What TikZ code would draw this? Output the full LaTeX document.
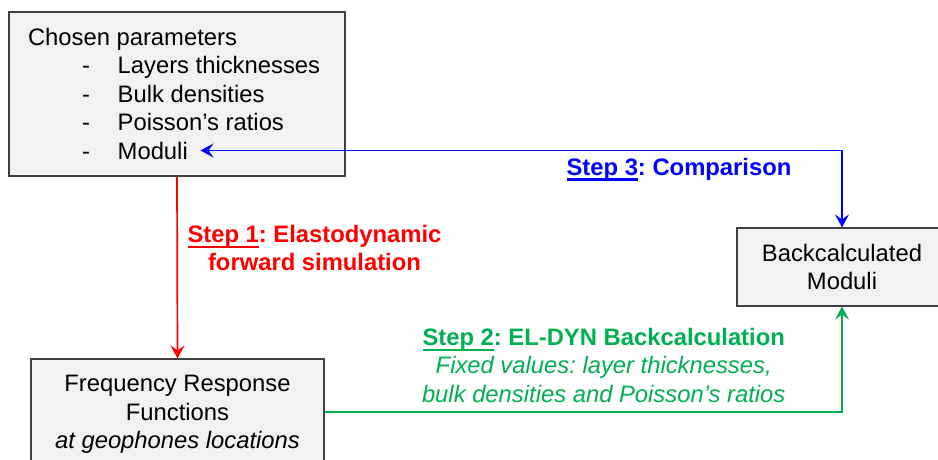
\documentclass[tikz,border=0pt]{standalone}
\usepackage{fontspec}
\setmainfont{Liberation Sans}
\usetikzlibrary{arrows.meta}
\definecolor{boxfill}{HTML}{F2F2F2}
\definecolor{boxline}{HTML}{404040}
\definecolor{cred}{HTML}{FF0000}
\definecolor{cblue}{HTML}{0000FF}
\definecolor{cgreen}{HTML}{00B050}
\newcommand\stepul[1]{\leavevmode\setbox0\hbox{#1}\rlap{\rule[-5.5pt]{\wd0}{2.2pt}}\box0}
\tikzset{mytip/.tip={Stealth[length=13pt,width=14pt,inset=5pt]}}
\frenchspacing
\begin{document}
\begin{tikzpicture}[x=1pt,y=-1pt,
  txt/.style={font=\fontsize{23.8}{28.5}\selectfont, inner sep=0pt},
  box/.style={draw=boxline, line width=1.1pt, fill=boxfill, inner sep=0pt,
              font=\fontsize{23.8}{28.5}\selectfont, align=center},
  conn/.style={line width=1.7pt},
  lbl/.style={font=\fontsize{23.8}{28.5}\selectfont\bfseries, inner sep=0pt, align=center},
]
\useasboundingbox (0,0) rectangle (938,459);

% boxes
\node[box, minimum width=336pt, minimum height=164pt] (params) at (177,94) {};
\node[box, minimum width=293pt, minimum height=106pt] (freq) at (177.5,412)
  {Frequency Response\\Functions\\\raisebox{0pt}[\height][0pt]{\itshape at geophones locations}};
\node[box, minimum width=210pt, minimum height=78pt] (back) at (842,267)
  {Backcalculated\\Moduli};

% text of the parameters box
\node[txt, anchor=base west] (chosen) at (27.8,45) {Chosen parameters};
\node[txt, anchor=base west] (d1) at (82,73.5) {-};
\node[txt, anchor=base west] (d2) at (82,102) {-};
\node[txt, anchor=base west] (d3) at (82,130.5) {-};
\node[txt, anchor=base west] (d4) at (82,159) {-};
\node[txt, anchor=base west] (layers) at (117.5,73.5) {Layers thicknesses};
\node[txt, anchor=base west] (bulk) at (117.5,102) {Bulk densities};
\node[txt, anchor=base west] (poisson) at (117.5,130.5) {Poisson’s ratios};
\node[txt, anchor=base west] (moduli) at (117.5,159) {Moduli};

% connectors
\draw[conn, cred, -mytip] (params.south) -- (freq.north);
\draw[conn, cgreen, -mytip] (freq.east) -| (back.south);
\draw[conn, cblue, mytip-mytip] ([xshift=12.5pt]moduli.east) -| (back.north);

% labels
\node[lbl, text=cred] (s1) at (314.5,248)
  {\stepul{Step 1}: Elastodynamic\\forward simulation};
\node[lbl, text=cgreen] (s2) at (603.7,365.3)
  {\stepul{Step 2}: EL-DYN Backcalculation\\
   \mdseries\itshape Fixed values: layer thicknesses,\\
   \mdseries\itshape bulk densities and Poisson’s ratios};
\node[lbl, text=cblue, anchor=base] (s3) at (679,175)
  {\stepul{Step 3}: Comparison};
\end{tikzpicture}
\end{document}
